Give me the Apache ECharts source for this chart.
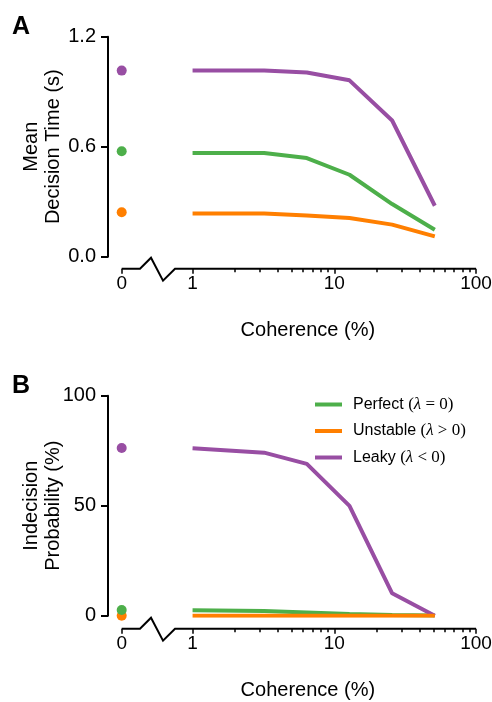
<!DOCTYPE html>
<html>
<head>
<meta charset="utf-8">
<script src="https://cdn.jsdelivr.net/npm/echarts@6/dist/echarts.min.js"></script>
<style>
html, body { margin: 0; padding: 0; background: #fff; }
#chart { width: 492px; height: 702px; }
</style>
</head>
<body>
<div id="chart"></div>
<script>
// coherence levels (%); 0 sits left of the axis break
const coherence = [1, 3.2, 6.4, 12.8, 25.6, 51.2];
const models = ['Perfect', 'Unstable', 'Leaky'];
const modelSigns = ['=', '>', '<'];
const modelColors = ['#4daf4a', '#ff7f00', '#984ea3'];

// panel A: mean decision time (s), zero-coherence values per model
const timeZero = [0.575, 0.242, 1.015];
const timePerfect = [0.566, 0.566, 0.538, 0.447, 0.287, 0.147];
const timeUnstable = [0.235, 0.235, 0.225, 0.211, 0.175, 0.111];
const timeLeaky = [1.015, 1.015, 1.005, 0.962, 0.743, 0.278];

// panel B: indecision probability (%)
const indecZero = [2.6, 0, 76.2];
const indecPerfect = [2.5, 2.1, 1.5, 0.8, 0.3, 0.1];
const indecUnstable = [0, 0, 0, 0, 0, 0];
const indecLeaky = [76.1, 74.1, 69.0, 49.9, 10.2, 0];

const xTickLabels = [0, 1, 10, 100];
const xMinorTicks = [2, 3, 4, 5, 6, 7, 8, 9, 20, 30, 40, 50, 60, 70, 80, 90];

// x is drawn in log10 units, the "0" column is put half a decade left of 1
const ZERO_POS = -0.5;
const X_MAX = 2;
function pos(c) { return c === 0 ? ZERO_POS : Math.log10(c); }

const FONT = '"Liberation Sans", Arial, sans-serif';
const plotLeft = 121.7, plotRight = 476;
const panels = [
  { top: 36.7, height: 220, xOffset: 12, min: 0, max: 1.2, interval: 0.6,
    yName: 'Mean\nDecision Time (s)', fmt: v => v.toFixed(1),
    zero: timeZero, lines: [timePerfect, timeUnstable, timeLeaky] },
  { top: 395.7, height: 220, xOffset: 13, min: 0, max: 100, interval: 50,
    yName: 'Indecision\nProbability (%)', fmt: v => String(v),
    zero: indecZero, lines: [indecPerfect, indecUnstable, indecLeaky] }
];

const grid = [], xAxis = [], yAxis = [], series = [], graphic = [];

panels.forEach((p, k) => {
  grid.push({
    left: plotLeft, width: plotRight - plotLeft, top: p.top, height: p.height,
    containLabel: false, outerBoundsMode: 'none'
  });
  // major ticks + labels
  xAxis.push({
    type: 'value', gridIndex: k, position: 'bottom', min: ZERO_POS, max: X_MAX, offset: p.xOffset,
    name: 'Coherence (%)', nameLocation: 'middle', nameGap: 52,
    nameTextStyle: { fontFamily: FONT, fontSize: 20, color: '#000', padding: [0, 0, 0, 18] },
    axisLine: { show: false, onZero: false },
    axisTick: { show: true, length: 5, customValues: xTickLabels.map(pos),
      lineStyle: { color: '#000', width: 1.5 } },
    axisLabel: { show: true, margin: 6, customValues: xTickLabels.map(pos),
      fontFamily: FONT, fontSize: 19, color: '#000',
      formatter: v => v < 0 ? '0' : String(Math.round(Math.pow(10, v))) },
    splitLine: { show: false }
  });
  // minor ticks
  xAxis.push({
    type: 'value', gridIndex: k, position: 'bottom', min: ZERO_POS, max: X_MAX, offset: p.xOffset,
    axisLine: { show: false, onZero: false },
    axisTick: { show: true, length: 3.5, customValues: xMinorTicks.map(pos),
      lineStyle: { color: '#000', width: 1.5 } },
    axisLabel: { show: false },
    splitLine: { show: false }
  });
  yAxis.push({
    type: 'value', gridIndex: k, position: 'left', min: p.min, max: p.max, interval: p.interval,
    offset: plotLeft - 108,
    name: p.yName, nameLocation: 'middle', nameRotate: 90, nameGap: 44, nameMoveOverlap: false,
    nameTextStyle: { fontFamily: FONT, fontSize: 20, color: '#000', lineHeight: 22 },
    axisLine: { show: true, onZero: false, lineStyle: { color: '#000', width: 2 } },
    axisTick: { show: true, length: 7, lineStyle: { color: '#000', width: 2 } },
    axisLabel: { margin: 12, fontFamily: FONT, fontSize: 20, color: '#000', formatter: p.fmt },
    splitLine: { show: false }
  });

  models.forEach((m, i) => {
    series.push({
      name: m, type: 'line', xAxisIndex: 2 * k, yAxisIndex: k,
      data: coherence.map((c, j) => [pos(c), p.lines[i][j]]),
      showSymbol: false, silent: true, z: 2 + (i === 1 ? 1 : 0),
      lineStyle: { color: modelColors[i], width: 4 },
      itemStyle: { color: modelColors[i] }
    });
  });
  models.forEach((m, i) => {
    series.push({
      name: m, type: 'scatter', xAxisIndex: 2 * k, yAxisIndex: k,
      data: [[pos(0), p.zero[i]]],
      symbol: 'circle', symbolSize: 10, clip: false, silent: true,
      z: i === 0 ? 5 : 4,
      itemStyle: { color: modelColors[i], opacity: 1 }
    });
  });

  // broken x axis line: short piece at 0, zigzag, then the log part
  const ax = p.top + p.height + p.xOffset;
  const x0 = plotLeft + (pos(0) - ZERO_POS) / (X_MAX - ZERO_POS) * (plotRight - plotLeft);
  const x1 = plotLeft + (X_MAX - ZERO_POS) / (X_MAX - ZERO_POS) * (plotRight - plotLeft);
  graphic.push({
    type: 'polyline', silent: true,
    shape: { points: [[x0, ax], [x0 + 18.3, ax], [x0 + 29.3, ax - 11], [x0 + 41.3, ax + 12], [x0 + 53.3, ax], [x1, ax]] },
    style: { stroke: '#000', lineWidth: 2, fill: null }
  });
});

graphic.push(
  { type: 'text', left: 12, top: 15, style: { text: 'A', font: 'bold 25px ' + FONT, fill: '#000' } },
  { type: 'text', left: 12, top: 374, style: { text: 'B', font: 'bold 25px ' + FONT, fill: '#000' } }
);

const chart = echarts.init(document.getElementById('chart'));
chart.setOption({
  animation: false,
  backgroundColor: '#fff',
  grid: grid,
  xAxis: xAxis,
  yAxis: yAxis,
  series: series,
  graphic: graphic,
  legend: {
    data: models, orient: 'vertical', left: 315, top: 395.5, padding: 0,
    icon: 'rect', itemWidth: 27, itemHeight: 4, itemGap: 8.5,
    selectedMode: false,
    textStyle: {
      fontFamily: FONT, fontSize: 16, color: '#000', lineHeight: 18, padding: [0, 0, 0, 6],
      rich: {
        s: { fontFamily: '"Liberation Serif", serif', fontSize: 17, color: '#000' },
        i: { fontFamily: '"Liberation Serif", serif', fontSize: 17, fontStyle: 'italic', color: '#000' }
      }
    },
    formatter: name => name + ' {s|(}{i|λ}{s| ' + modelSigns[models.indexOf(name)] + ' 0)}'
  }
});
</script>
</body>
</html>
